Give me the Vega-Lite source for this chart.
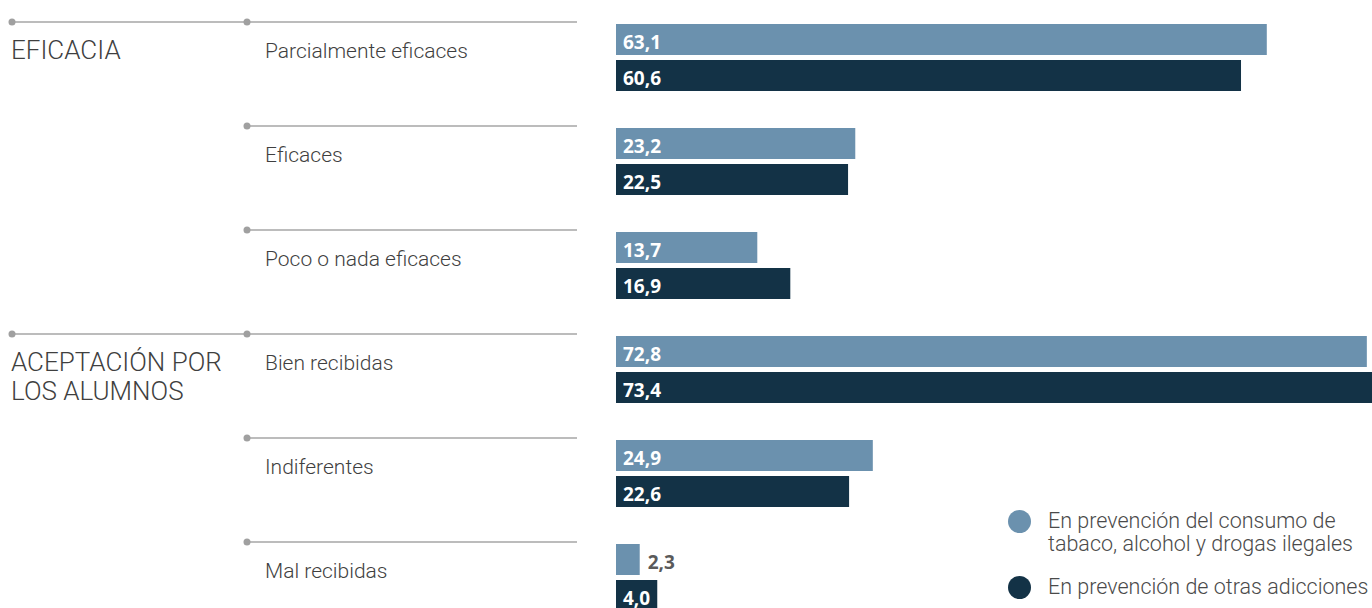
{
  "$schema": "https://vega.github.io/schema/vega-lite/v6.json",
  "padding": 0,
  "spacing": 0,
  "bounds": "flush",
  "background": "white",
  "config": {
    "view": {"stroke": null},
    "concat": {"spacing": 0},
    "locale": {"number": {"decimal": ",", "thousands": ".", "grouping": [3], "currency": ["", " €"]}}
  },
  "datasets": {
    "items": [
      {"group": "EFICACIA", "item": "Parcialmente eficaces"},
      {"group": "EFICACIA", "item": "Eficaces"},
      {"group": "EFICACIA", "item": "Poco o nada eficaces"},
      {"group": "ACEPTACIÓN POR\nLOS ALUMNOS", "item": "Bien recibidas"},
      {"group": "ACEPTACIÓN POR\nLOS ALUMNOS", "item": "Indiferentes"},
      {"group": "ACEPTACIÓN POR\nLOS ALUMNOS", "item": "Mal recibidas"}
    ],
    "groups": [
      {"group": "EFICACIA", "item": "Parcialmente eficaces"},
      {"group": "ACEPTACIÓN POR\nLOS ALUMNOS", "item": "Bien recibidas"}
    ],
    "bars": [
      {"item": "Parcialmente eficaces", "series": "En prevención del consumo de tabaco, alcohol y drogas ilegales", "value": 63.1},
      {"item": "Parcialmente eficaces", "series": "En prevención de otras adicciones", "value": 60.6},
      {"item": "Eficaces", "series": "En prevención del consumo de tabaco, alcohol y drogas ilegales", "value": 23.2},
      {"item": "Eficaces", "series": "En prevención de otras adicciones", "value": 22.5},
      {"item": "Poco o nada eficaces", "series": "En prevención del consumo de tabaco, alcohol y drogas ilegales", "value": 13.7},
      {"item": "Poco o nada eficaces", "series": "En prevención de otras adicciones", "value": 16.9},
      {"item": "Bien recibidas", "series": "En prevención del consumo de tabaco, alcohol y drogas ilegales", "value": 72.8},
      {"item": "Bien recibidas", "series": "En prevención de otras adicciones", "value": 73.4},
      {"item": "Indiferentes", "series": "En prevención del consumo de tabaco, alcohol y drogas ilegales", "value": 24.9},
      {"item": "Indiferentes", "series": "En prevención de otras adicciones", "value": 22.6},
      {"item": "Mal recibidas", "series": "En prevención del consumo de tabaco, alcohol y drogas ilegales", "value": 2.3},
      {"item": "Mal recibidas", "series": "En prevención de otras adicciones", "value": 4.0}
    ]
  },
  "resolve": {"scale": {"y": "independent"}},
  "hconcat": [
    {
      "width": 247,
      "height": 608,
      "data": {"name": "groups"},
      "encoding": {
        "y": {
          "field": "item", "type": "nominal", "bandPosition": 0, "axis": null,
          "scale": {"domain": ["Parcialmente eficaces", "Eficaces", "Poco o nada eficaces", "Bien recibidas", "Indiferentes", "Mal recibidas"], "range": [22, 646], "paddingInner": 0, "paddingOuter": 0}
        }
      },
      "layer": [
        {"mark": {"type": "rule", "color": "#a6a6a6", "strokeWidth": 1.6}, "encoding": {"x": {"value": 12}, "x2": {"value": 247}}},
        {"mark": {"type": "point", "filled": true, "color": "#a0a0a0", "opacity": 1, "size": 49}, "encoding": {"x": {"value": 12}}},
        {"mark": {"type": "text", "align": "left", "baseline": "alphabetic", "dy": 37, "font": "Roboto", "fontWeight": 300, "fontSize": 26, "lineBreak": "\n", "lineHeight": 29, "color": "#3f3f3f"}, "encoding": {"x": {"value": 11}, "text": {"field": "group"}}}
      ]
    },
    {
      "width": 369,
      "height": 608,
      "data": {"name": "items"},
      "encoding": {
        "y": {
          "field": "item", "type": "nominal", "bandPosition": 0, "axis": null,
          "scale": {"domain": ["Parcialmente eficaces", "Eficaces", "Poco o nada eficaces", "Bien recibidas", "Indiferentes", "Mal recibidas"], "range": [22, 646], "paddingInner": 0, "paddingOuter": 0}
        }
      },
      "layer": [
        {"mark": {"type": "rule", "color": "#a6a6a6", "strokeWidth": 1.6}, "encoding": {"x": {"value": 0}, "x2": {"value": 330}}},
        {"mark": {"type": "point", "filled": true, "color": "#a0a0a0", "opacity": 1, "size": 49}, "encoding": {"x": {"value": 0}}},
        {"mark": {"type": "text", "align": "left", "baseline": "alphabetic", "dy": 36, "font": "Roboto", "fontWeight": 300, "fontSize": 21, "color": "#3f3f3f"}, "encoding": {"x": {"value": 18}, "text": {"field": "item"}}}
      ]
    },
    {
      "width": 756,
      "height": 608,
      "data": {"name": "bars"},
      "encoding": {
        "y": {
          "field": "item", "type": "nominal", "axis": null,
          "scale": {"domain": ["Parcialmente eficaces", "Eficaces", "Poco o nada eficaces", "Bien recibidas", "Indiferentes", "Mal recibidas"], "range": [22, 646], "paddingInner": 0, "paddingOuter": 0}
        },
        "yOffset": {
          "field": "series", "type": "nominal",
          "scale": {"domain": ["En prevención del consumo de tabaco, alcohol y drogas ilegales", "En prevención de otras adicciones"], "range": [2, 69], "paddingInner": 0.139, "paddingOuter": 0}
        }
      },
      "layer": [
        {
          "mark": {"type": "bar", "clip": true},
          "encoding": {
            "x": {"field": "value", "type": "quantitative", "axis": null, "scale": {"domain": [0, 73.3], "nice": false, "zero": true}},
            "color": {
              "field": "series", "type": "nominal",
              "scale": {"domain": ["En prevención del consumo de tabaco, alcohol y drogas ilegales", "En prevención de otras adicciones"], "range": ["#6b91ae", "#133246"]},
              "legend": {
                "title": null, "orient": "none", "legendX": 1008, "legendY": 510,
                "symbolType": "circle", "symbolSize": 529, "symbolStrokeWidth": 0, "symbolOpacity": 1,
                "labelFont": "Roboto", "labelFontWeight": 300, "labelFontSize": 21.5, "labelColor": "#4a4a4a", "labelLimit": 500, "labelOffset": 17, "rowPadding": 20,
                "labelExpr": "indexof(datum.label, 'tabaco') >= 0 ? ['En prevención del consumo de', 'tabaco, alcohol y drogas ilegales'] : datum.label"
              }
            }
          }
        },
        {
          "transform": [{"filter": "datum.value >= 3"}],
          "mark": {"type": "text", "clip": true, "align": "left", "baseline": "alphabetic", "dx": 7, "dy": 9.5, "font": "Open Sans", "fontWeight": "bold", "fontSize": 19, "color": "white"},
          "encoding": {"x": {"value": 0}, "text": {"field": "value", "type": "quantitative", "format": ".1f"}}
        },
        {
          "transform": [{"filter": "datum.value < 3"}],
          "mark": {"type": "text", "clip": true, "align": "left", "baseline": "alphabetic", "dx": 8, "dy": 9.5, "font": "Open Sans", "fontWeight": "bold", "fontSize": 19, "color": "#5a5a5a"},
          "encoding": {"x": {"field": "value", "type": "quantitative"}, "text": {"field": "value", "type": "quantitative", "format": ".1f"}}
        }
      ]
    }
  ]
}
